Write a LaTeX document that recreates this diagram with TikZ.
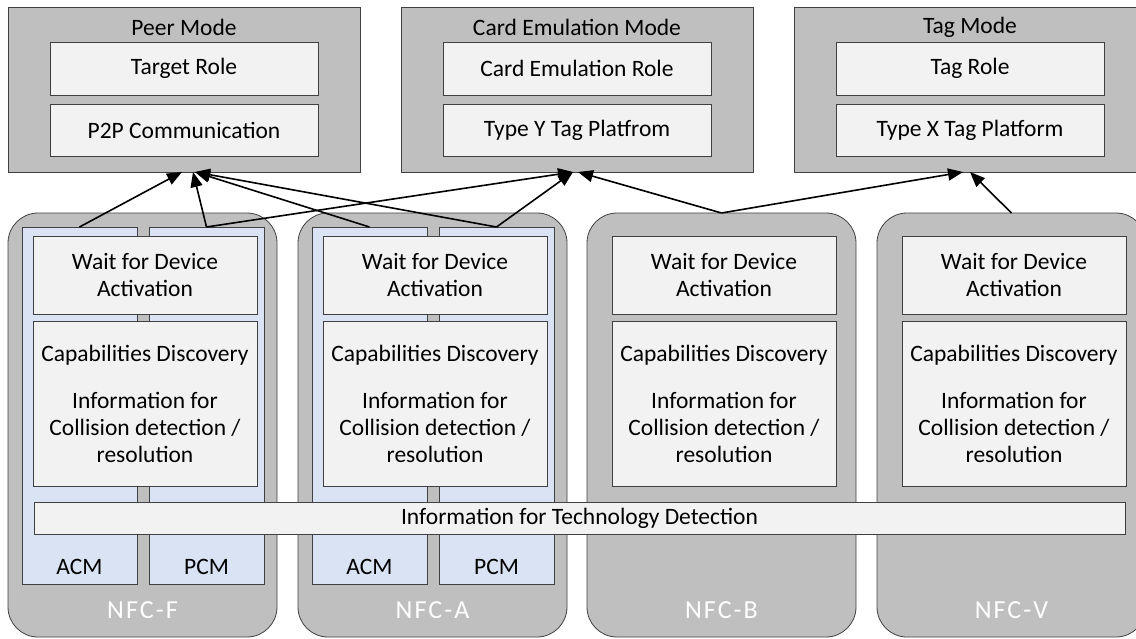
\documentclass[tikz,border=0pt]{standalone}
\usepackage{fontspec}
\setmainfont{Carlito}
\usetikzlibrary{arrows.meta}
\definecolor{modegray}{HTML}{BFBFBF}
\definecolor{boxfill}{HTML}{F2F2F2}
\definecolor{colblue}{HTML}{DAE3F3}
\definecolor{edge}{HTML}{404040}

\begin{document}
\begin{tikzpicture}
[x=1pt,y=-1pt,%
  every node/.style={inner sep=0pt,outer sep=0pt,align=center,font=\fontsize{23.5}{27}\selectfont},%
  modebox/.style={draw=edge,line width=0.8pt,fill=modegray,minimum width=352pt,minimum height=165pt},%
  rolebox/.style={draw=edge,line width=0.8pt,fill=boxfill,minimum width=268pt},%
  techbox/.style={draw=edge,line width=0.8pt,fill=modegray,rounded corners=30pt,minimum width=269pt,minimum height=424pt,anchor=north west},%
  column/.style={draw=edge,line width=0.8pt,fill=colblue,minimum width=115pt,minimum height=357pt,anchor=north west},%
  stagebox/.style={draw=edge,line width=0.8pt,fill=boxfill,anchor=north west},%
  link/.style={line width=1.6pt,-{Triangle[length=15pt,width=12pt]}}]
\clip (0,0) rectangle (1136,638);
% modes
\foreach \n/\x/\t/\r/\p in {peer/184/Peer Mode/Target Role/P2P Communication,
    card/577/Card Emulation Mode/Card Emulation Role/Type Y Tag Platfrom,
    tag/970/Tag Mode/Tag Role/Type X Tag Platform}{
  \node[modebox] (\n) at (\x,89.5) {};
  \node (\n title) at (\x,27) {\t};
  \node[rolebox,minimum height=53pt] (\n role) at (\x,68.5) {\r};
  \node[rolebox,minimum height=52pt] (\n plat) at (\x,130) {\p};
}
% technologies
\foreach \n/\x in {F/8,A/298,B/587,V/877}{
  \node[techbox] (nfc\n) at (\x,213) {};
}
\foreach \n/\x in {F/8,A/298}{
  \node[column] (acm\n) at (\x+14,227) {};
  \node[column] (pcm\n) at (\x+141,227) {};
  \node (acm\n label) at (\x+71.5,567) {ACM};
  \node (pcm\n label) at (\x+198.5,567) {PCM};
}
\foreach \n/\x in {F/8,A/298,B/587,V/877}{
  \node[stagebox,minimum width=224pt,minimum height=78pt] (wait\n) at (\x+25,236)
    {Wait for Device\\Activation};
  \node[stagebox,minimum width=224pt,minimum height=165pt] (caps\n) at (\x+25,321)
    {Capabilities Discovery\\[20pt]Information for\\Collision detection /\\resolution};
  \node[white,font=\fontsize{26}{30}\selectfont\addfontfeature{LetterSpace=8}] (nfc\n label) at (\x+134.5,610) {NFC-\n};
}
\node[stagebox,minimum width=1091pt,minimum height=32pt] (techdet) at (34,502)
  {Information for Technology Detection};
% links
\draw[link] (acmF.north) -- ([xshift=-2pt]peer.south);
\draw[link] (pcmF.north) -- ([xshift=9pt]peer.south);
\draw[link] (pcmF.north) -- ([xshift=-4pt]card.south);
\draw[link] (acmA.north) -- ([xshift=11pt]peer.south);
\draw[link] (pcmA.north) -- ([xshift=11pt]peer.south);
\draw[link] (pcmA.north) -- ([xshift=-4pt]card.south);
\draw[link] (nfcB.north) -- ([xshift=1pt]card.south);
\draw[link] (nfcB.north) -- ([xshift=-7pt]tag.south);
\draw[link] (nfcV.north) -- (tag.south);
\end{tikzpicture}
\end{document}
